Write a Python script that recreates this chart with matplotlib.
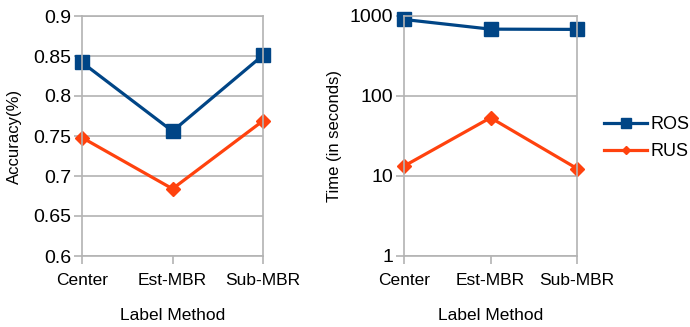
import numpy as np
import matplotlib
matplotlib.use('Agg')
from matplotlib import pyplot as plt

plt.rcParams['font.family'] = ['Liberation Sans', 'DejaVu Sans']

methods = ['Center', 'Est-MBR', 'Sub-MBR']
acc_ros = [0.842, 0.756, 0.851]
acc_rus = [0.748, 0.684, 0.769]
time_ros = [905, 685, 680]
time_rus = [13.3, 53.5, 12.4]

blue = '#004586'
orange = '#ff420e'
grey = '#b3b3b3'

fig = plt.figure(figsize=(6.9, 3.27), dpi=100)
ax1 = fig.add_axes([82/690, 1-256/327, 181/690, 240/327])
ax2 = fig.add_axes([404/690, 1-256/327, 173/690, 240/327])

x = np.arange(len(methods))

def style(ax):
    for s in ax.spines.values():
        s.set_color(grey)
        s.set_linewidth(1.2)
    ax.set_xlim(0, len(methods) - 1)
    ax.set_xticks(x)
    ax.set_xticklabels(methods, fontsize=12.5)
    ax.tick_params(axis='both', colors=grey, length=6, width=1.2, labelcolor='black')
    ax.tick_params(axis='x', pad=6)
    ax.tick_params(axis='y', labelsize=14, pad=2)
    ax.yaxis.grid(True, color=grey, linewidth=1.2)
    ax.set_axisbelow(True)
    ax.set_xlabel('Label Method', fontsize=12.5, labelpad=15)

ax1.plot(x, acc_ros, color=blue, lw=2.3, marker='s', ms=10, clip_on=False, label='ROS')
ax1.plot(x, acc_rus, color=orange, lw=2.3, marker='D', ms=7, clip_on=False, label='RUS')
ax1.set_ylim(0.6, 0.9)
ax1.set_yticks([0.6, 0.65, 0.7, 0.75, 0.8, 0.85, 0.9])
ax1.set_yticklabels(['0.6', '0.65', '0.7', '0.75', '0.8', '0.85', '0.9'])
style(ax1)
ax1.set_ylabel('Accuracy(%)', fontsize=12, labelpad=8)

ax2.plot(x, time_ros, color=blue, lw=2.3, marker='s', ms=10, clip_on=False, label='ROS')
ax2.plot(x, time_rus, color=orange, lw=2.3, marker='D', ms=7, clip_on=False, label='RUS')
ax2.set_yscale('log')
ax2.set_ylim(1, 1000)
ax2.set_yticks([1, 10, 100, 1000])
ax2.set_yticklabels(['1', '10', '100', '1000'])
ax2.yaxis.set_minor_locator(matplotlib.ticker.NullLocator())
style(ax2)
ax2.set_ylabel('Time (in seconds)', fontsize=12, labelpad=5)

handles, labels = ax2.get_legend_handles_labels()
fig.legend(handles, labels, loc='center left', bbox_to_anchor=(604/690, 1-138/327),
           frameon=False, fontsize=13, handlelength=2.4, handletextpad=0.15,
           labelspacing=0.55, borderaxespad=0, borderpad=0, markerscale=0.65)

fig.savefig('out.png', dpi=100)
